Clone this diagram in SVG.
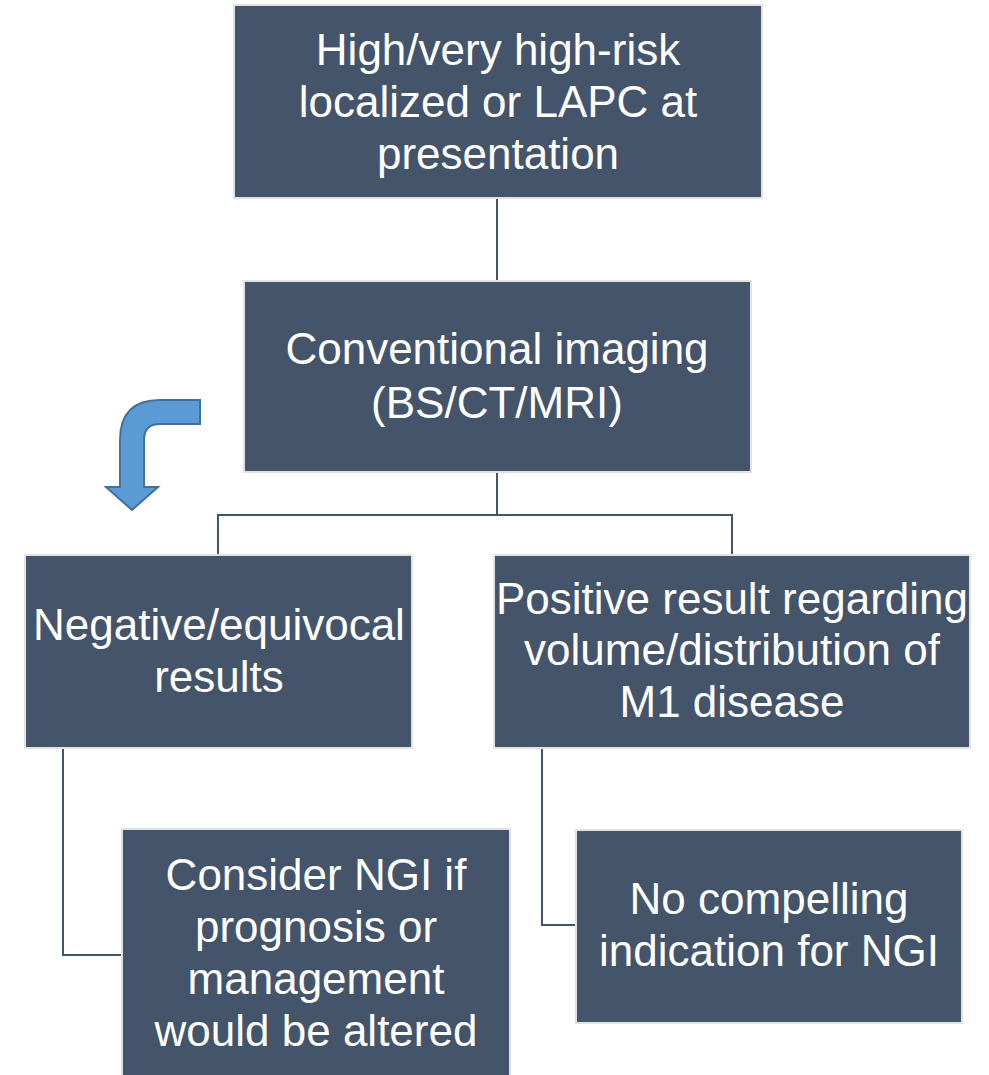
<svg xmlns="http://www.w3.org/2000/svg" width="989" height="1075" viewBox="0 0 989 1075">
<style>
.box{fill:#44546A;stroke:#E2E2E2;stroke-width:2}
.t{font-family:"Liberation Sans",Arial,sans-serif;font-size:44px;fill:#FFFFFF;text-anchor:middle}
.c{fill:none;stroke:#44546A;stroke-width:2}
</style>
<rect width="989" height="1075" fill="#FFFFFF"/>
<g id="connectors">
<line class="c" x1="497" y1="198" x2="497" y2="281"/>
<polyline class="c" points="497,472 497,515 218,515 218,555"/>
<polyline class="c" points="497,515 732,515 732,555"/>
<polyline class="c" points="63,748 63,955 122,955"/>
<polyline class="c" points="542,748 542,925 576,925"/>
</g>
<g id="bent-arrow">
<path d="M200,400 L160,400 Q120,400 120,440 L120,487 L106,487 L132,510 L158,487 L144,487 L144,440 Q144,424 160,424 L200,424 Z" fill="#5B9BD5" stroke="#41719C" stroke-width="2"/>
</g>
<g id="n1">
<rect class="box" x="234" y="5" width="528" height="193"/>
<text class="t" x="498" y="65">High/very high-risk</text>
<text class="t" x="498" y="117">localized or LAPC at</text>
<text class="t" x="498" y="169">presentation</text>
</g>
<g id="n2">
<rect class="box" x="244" y="281" width="507" height="191"/>
<text class="t" x="497" y="364">Conventional imaging</text>
<text class="t" x="497" y="418">(BS/CT/MRI)</text>
</g>
<g id="n3">
<rect class="box" x="25" y="555" width="387" height="193"/>
<text class="t" x="219" y="640">Negative/equivocal</text>
<text class="t" x="219" y="692">results</text>
</g>
<g id="n4">
<rect class="box" x="494" y="555" width="476" height="193"/>
<text class="t" x="732" y="614">Positive result regarding</text>
<text class="t" x="732" y="665">volume/distribution of</text>
<text class="t" x="732" y="717">M1 disease</text>
</g>
<g id="n5">
<rect class="box" x="122" y="829" width="388" height="250"/>
<text class="t" x="316" y="890">Consider NGI if</text>
<text class="t" x="316" y="942">prognosis or</text>
<text class="t" x="316" y="994">management</text>
<text class="t" x="316" y="1046">would be altered</text>
</g>
<g id="n6">
<rect class="box" x="576" y="830" width="386" height="193"/>
<text class="t" x="769" y="914">No compelling</text>
<text class="t" x="769" y="966">indication for NGI</text>
</g>
</svg>
